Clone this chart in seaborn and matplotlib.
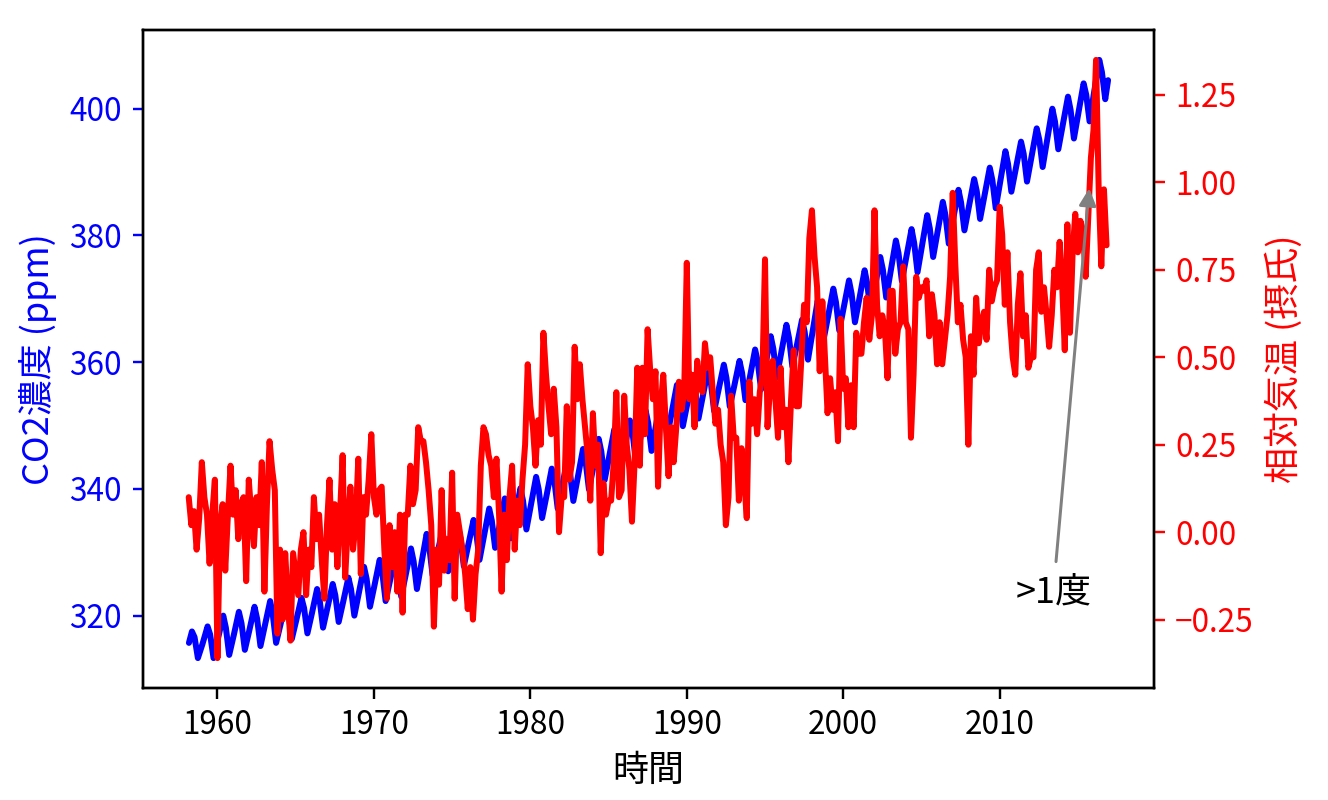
import pandas as pd
import seaborn as sns
import matplotlib.pyplot as plt

# CO2 (ppm): January, May (peak), July, October (trough)
co2_years = list(range(1958, 2017))
co2_jan = [None, 315.5, 316.4, 316.9, 317.7, 318.5, 318.7, 319.3, 320.4, 321.3,
           322.2, 323.6, 324.8, 325.6, 326.5, 328.3, 329.6, 330.3, 331.2, 332.6,
           334.3, 335.9, 337.5, 339.0, 340.5, 341.9, 343.6, 345.1, 346.7, 348.1,
           350.1, 352.1, 353.5, 354.8, 355.7, 356.3, 357.7, 359.6, 361.5, 362.7,
           364.8, 367.3, 368.7, 370.1, 372.0, 374.4, 376.6, 378.4, 380.7, 382.7,
           384.6, 386.4, 388.5, 390.6, 392.4, 395.1, 397.5, 399.4, 402.6]
co2_peak = [317.5, 318.3, 320.0, 320.6, 321.4, 322.3, 322.3, 322.8, 324.2, 325.0,
            326.0, 327.7, 328.8, 329.4, 330.6, 332.9, 333.3, 334.2, 335.1, 336.9,
            338.5, 340.1, 341.9, 343.2, 344.6, 346.3, 347.9, 349.4, 350.8, 352.4,
            354.8, 356.4, 357.6, 359.0, 359.6, 360.2, 362.0, 364.1, 365.9, 366.7,
            369.7, 371.6, 372.9, 374.5, 376.6, 379.2, 381.0, 383.2, 385.3, 387.2,
            388.9, 390.7, 393.3, 394.8, 396.9, 400.0, 401.9, 404.0, 407.7]
co2_jul = [316.6, 317.0, 318.1, 318.8, 319.5, 320.2, 320.5, 321.2, 322.4, 323.2,
           324.2, 325.8, 326.8, 327.4, 328.6, 330.9, 331.4, 332.2, 333.2, 335.0,
           336.6, 338.1, 339.9, 341.3, 342.6, 344.3, 345.9, 347.5, 348.8, 350.4,
           352.8, 354.4, 355.6, 356.9, 357.5, 358.3, 360.1, 362.1, 363.8, 364.8,
           367.9, 369.5, 370.8, 372.4, 374.6, 377.2, 378.8, 381.1, 383.2, 385.2,
           387.0, 388.7, 391.3, 392.9, 395.1, 398.0, 399.8, 402.2, 405.8]
co2_trough = [313.3, 313.3, 313.8, 314.6, 315.2, 315.7, 316.3, 317.2, 318.1, 319.0,
              320.0, 321.4, 322.3, 323.0, 324.2, 326.4, 327.0, 327.8, 328.8, 330.7,
              332.2, 333.6, 335.4, 336.9, 338.1, 339.9, 341.4, 343.1, 344.3, 346.0,
              348.4, 349.9, 351.1, 352.3, 353.0, 354.0, 355.7, 357.6, 359.3, 360.4,
              363.6, 365.0, 366.3, 367.9, 370.2, 372.8, 374.2, 376.6, 378.7, 380.8,
              382.6, 384.3, 386.9, 388.5, 390.8, 393.6, 395.3, 398.0, 401.5]
co2_first = ('1958-03-06', 315.7)
co2_last = ('2016-12-06', 404.5)

# relative temperature (deg C), every second month from March 1958
temp = [
    0.10, 0.02, 0.06, -0.05, 0.04, 0.20,   # 1958
    0.10, 0.05, -0.09, 0.05, 0.15, -0.36,
    0.02, 0.08, -0.11, 0.05, 0.19, 0.05,   # 1960
    0.12, -0.02, 0.08, 0.10, -0.14, 0.15,
    0.05, -0.04, 0.10, 0.02, 0.20, -0.17,
    0.08, 0.26, 0.18, 0.12, -0.29, -0.05,
    -0.25, -0.06, -0.20, -0.31, -0.06, -0.12,
    -0.18, -0.05, 0.00, -0.18, -0.05, -0.10,
    0.10, -0.02, 0.05, -0.08, -0.19, 0.02,
    0.15, -0.05, 0.08, -0.10, 0.05, 0.22,
    -0.13, 0.02, 0.13, -0.05, 0.03, 0.21,
    -0.12, 0.10, 0.05, 0.15, 0.28, 0.10,
    0.05, 0.12, 0.13, -0.05, -0.19, 0.02,  # 1970
    -0.10, 0.00, -0.17, 0.05, -0.23, 0.05,
    0.05, 0.19, 0.08, 0.12, 0.30, 0.26,
    0.26, 0.20, 0.12, 0.02, -0.27, -0.05,
    -0.15, 0.12, -0.11, -0.02, -0.08, 0.17,
    -0.19, 0.05, 0.00, -0.05, -0.12, -0.22,
    -0.10, -0.25, -0.12, -0.05, 0.19, 0.30,
    0.28, 0.22, 0.19, 0.10, 0.21, 0.05,
    -0.17, 0.05, -0.08, 0.10, 0.19, -0.05,
    0.09, 0.02, 0.15, 0.25, 0.48, 0.36,
    0.30, 0.19, 0.32, 0.25, 0.57, 0.45,    # 1980
    0.36, 0.28, 0.41, 0.30, 0.00, 0.10,
    0.10, 0.36, 0.15, 0.20, 0.53, 0.38,
    0.48, 0.38, 0.30, 0.22, 0.09, 0.34,
    0.19, 0.25, -0.06, 0.14, 0.05, 0.09,
    0.09, 0.20, 0.40, 0.10, 0.12, 0.39,
    0.25, 0.18, 0.03, 0.20, 0.47, 0.19,
    0.47, 0.28, 0.58, 0.46, 0.38, 0.46,
    0.13, 0.36, 0.45, 0.30, 0.16, 0.30,
    0.20, 0.30, 0.43, 0.35, 0.40, 0.77,
    0.38, 0.45, 0.30, 0.49, 0.42, 0.40,    # 1990
    0.54, 0.47, 0.50, 0.40, 0.31, 0.35,
    0.25, 0.20, 0.02, 0.10, 0.39, 0.27,
    0.27, 0.09, 0.24, 0.15, 0.04, 0.43,
    0.31, 0.38, 0.28, 0.40, 0.45, 0.78,
    0.30, 0.42, 0.49, 0.38, 0.27, 0.47,
    0.30, 0.35, 0.20, 0.38, 0.52, 0.36,
    0.36, 0.50, 0.65, 0.60, 0.84, 0.92,
    0.79, 0.70, 0.46, 0.66, 0.50, 0.34,
    0.44, 0.35, 0.40, 0.26, 0.61, 0.41,
    0.44, 0.30, 0.42, 0.30, 0.57, 0.51,    # 2000
    0.51, 0.60, 0.67, 0.55, 0.62, 0.92,
    0.65, 0.56, 0.62, 0.58, 0.44, 0.69,
    0.69, 0.51, 0.58, 0.60, 0.76, 0.60,
    0.58, 0.27, 0.45, 0.73, 0.67, 0.70,
    0.69, 0.72, 0.56, 0.68, 0.62, 0.48,
    0.60, 0.48, 0.55, 0.62, 0.73, 0.97,
    0.77, 0.60, 0.65, 0.55, 0.50, 0.25,
    0.56, 0.45, 0.67, 0.54, 0.60, 0.63,
    0.55, 0.75, 0.66, 0.70, 0.72, 0.93,
    0.85, 0.65, 0.80, 0.60, 0.50, 0.45,    # 2010
    0.65, 0.74, 0.56, 0.62, 0.47, 0.50,
    0.50, 0.75, 0.80, 0.63, 0.70, 0.62,
    0.53, 0.62, 0.75, 0.70, 0.83, 0.70,
    0.52, 0.88, 0.57, 0.80, 0.91, 0.80,
    0.89, 0.86, 0.73, 0.90, 1.07, 1.15,
    1.35, 0.98, 0.76, 0.98, 0.82,          # 2016
]

# build tables
co2_dates = [co2_first[0]]
co2_vals = [co2_first[1]]
for y, ja, p, jl, t in zip(co2_years, co2_jan, co2_peak, co2_jul, co2_trough):
    if ja is not None:
        co2_dates.append(f'{y}-01-15')
        co2_vals.append(ja)
    co2_dates += [f'{y}-05-15', f'{y}-07-15', f'{y}-10-01']
    co2_vals += [p, jl, t]
co2_dates.append(co2_last[0])
co2_vals.append(co2_last[1])
co2_df = pd.DataFrame({'date': pd.to_datetime(co2_dates), 'co2': co2_vals})

temp_df = pd.DataFrame({'date': pd.date_range('1958-03-01', periods=len(temp), freq='2MS'),
                        'relative_temp': temp})

sns.set_style('ticks', {'axes.edgecolor': 'black', 'xtick.color': 'black',
                        'ytick.color': 'black', 'text.color': 'black',
                        'axes.labelcolor': 'black'})
plt.rcParams['font.family'] = ['Noto Sans CJK JP', 'DejaVu Sans']
plt.rcParams['font.size'] = 10.5
plt.rcParams['axes.labelsize'] = 12

fig, ax = plt.subplots(figsize=(1328 / 216, 800 / 216), dpi=216)
fig.subplots_adjust(left=0.1075, right=0.869, bottom=0.14, top=0.9625)

sns.lineplot(data=co2_df, x='date', y='co2', color='blue', ax=ax, estimator=None, lw=2.0)
ax.set_xlabel('時間')
ax.set_ylabel('CO2濃度 (ppm)', color='blue')
ax.tick_params(axis='y', colors='blue')

ax2 = ax.twinx()
sns.lineplot(data=temp_df, x='date', y='relative_temp', color='red', ax=ax2, estimator=None, lw=2.0)
ax2.set_ylabel('相対気温 (摂氏)', color='red')
ax2.tick_params(axis='y', colors='red')
ax2.set_xlabel('時間')

ax2.annotate('>1度', xy=(pd.Timestamp('2015-10-06'), 1),
             xytext=(pd.Timestamp('2011-01-01'), -0.2), fontsize=12,
             arrowprops={'arrowstyle': '-|>', 'color': 'gray'})

fig.savefig('out.png', dpi=216)
